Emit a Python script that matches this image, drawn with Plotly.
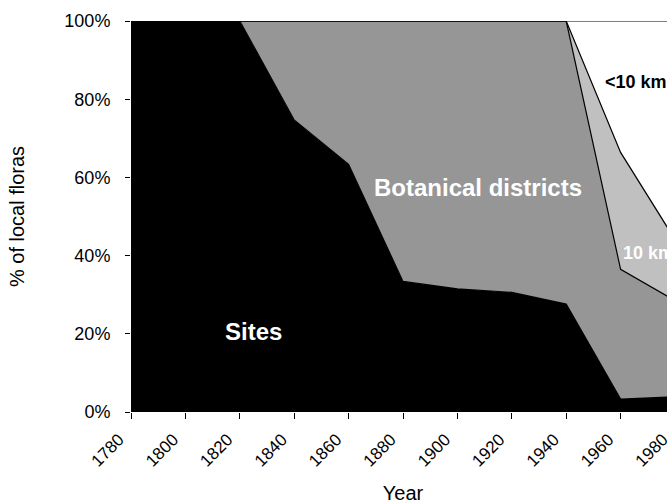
import plotly.graph_objects as go

years = [1780, 1800, 1820, 1840, 1860, 1880, 1900, 1920, 1940, 1960, 1980]
sites = [100, 100, 100, 74.7, 63.3, 33.4, 31.5, 30.6, 27.6, 3.3, 3.9]
districts = [0, 0, 0, 25.3, 36.7, 66.6, 68.5, 69.4, 72.4, 33.2, 24.6]
km10 = [0, 0, 0, 0, 0, 0, 0, 0, 0, 29.9, 15.6]
lt10km = [0, 0, 0, 0, 0, 0, 0, 0, 0, 33.6, 55.9]
y_ticks = [0, 20, 40, 60, 80, 100]
y_ticktext = ["0%", "20%", "40%", "60%", "80%", "100%"]

series = [
    ("Sites", sites, "#000000"),
    ("Botanical districts", districts, "#969696"),
    ("10 km", km10, "#c0c0c0"),
    ("<10 km", lt10km, "#ffffff"),
]

FONT = "Arial, Liberation Sans, Helvetica, sans-serif"

fig = go.Figure()
for name, vals, col in series:
    fig.add_trace(go.Scatter(
        x=years, y=vals, name=name, mode="lines",
        stackgroup="one", fillcolor=col,
        line=dict(color="#000000", width=1.2),
        showlegend=False, hoverinfo="skip",
    ))

ann = [
    ("Sites", 1825.2, 20.6, "center", "#ffffff", 24),
    ("Botanical districts", 1907.6, 57.5, "center", "#ffffff", 24),
    ("10 km", 1960.3, 40.7, "left", "#ffffff", 18),
    ("<10 km", 1953.7, 84.5, "left", "#000000", 18),
]
for txt, x, y, xa, col, sz in ann:
    fig.add_annotation(x=x, y=y, text="<b>%s</b>" % txt, showarrow=False,
                       xanchor=xa, yanchor="middle",
                       font=dict(family=FONT, size=sz, color=col))

fig.update_layout(
    width=675, height=504,
    margin=dict(l=131, r=0, t=21, b=92),
    paper_bgcolor="#ffffff", plot_bgcolor="#ffffff",
    font=dict(family=FONT, size=18, color="#000000"),
    xaxis=dict(
        range=[1780, 1980], tickmode="array", tickvals=years,
        ticktext=[str(y) for y in years], tickangle=-45,
        ticks="outside", ticklen=6, tickcolor="#000000",
        showline=False, showgrid=False, zeroline=False,
        tickfont=dict(size=17), ticklabelstandoff=4, ticklabelshift=-12,
        ticklabeloverflow="allow",
        title=dict(text="Year", font=dict(size=20), standoff=19),
    ),
    yaxis=dict(
        range=[0, 100], tickmode="array", tickvals=y_ticks, ticktext=y_ticktext,
        ticks="outside", ticklen=5, tickcolor="#000000",
        showline=False, showgrid=False, zeroline=False,
        tickfont=dict(size=18), ticklabelstandoff=11,
        title=dict(text="% of local floras", font=dict(size=20), standoff=34),
    ),
)

fig.write_html("out.html", config={"displayModeBar": False},
               post_script="document.body.style.margin='0';document.documentElement.style.overflow='hidden';document.body.style.overflow='hidden';")
